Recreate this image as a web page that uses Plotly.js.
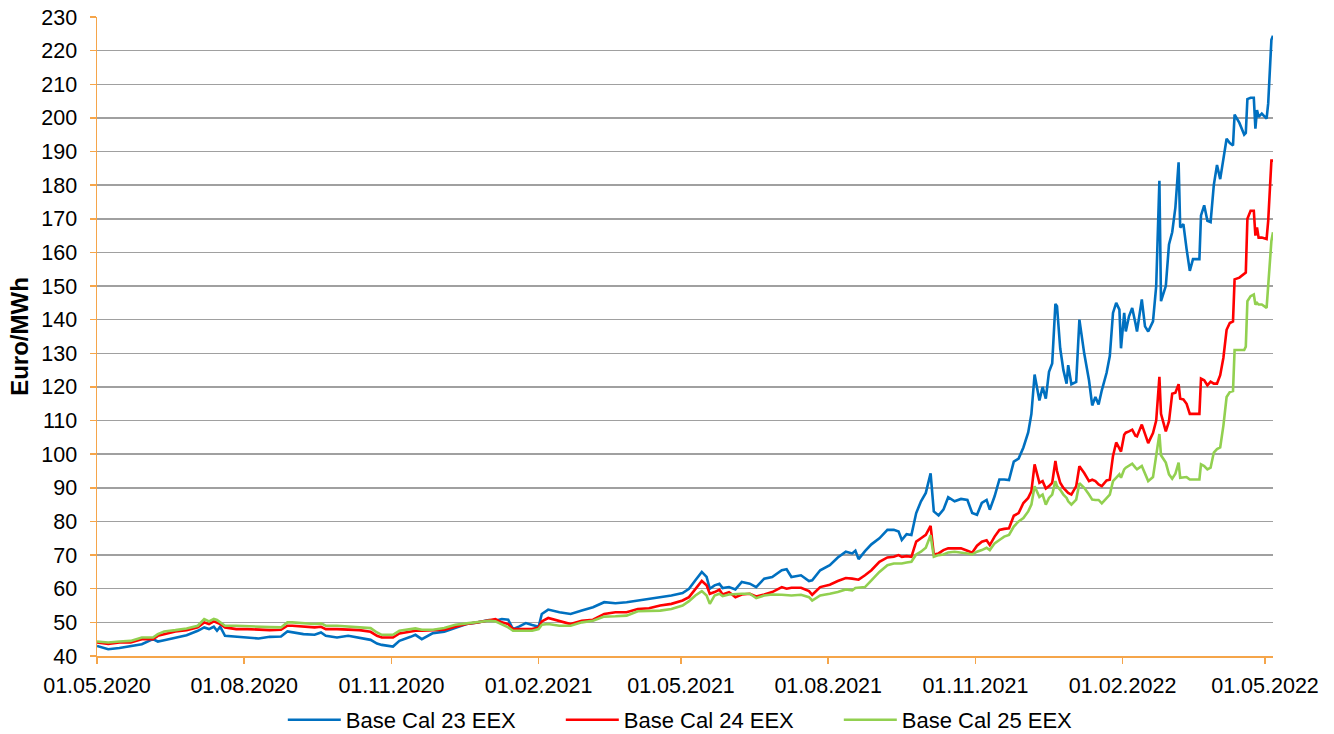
<!DOCTYPE html>
<html>
<head>
<meta charset="utf-8">
<script src="https://cdn.plot.ly/plotly-3.0.1.min.js"></script>
<style>html,body{margin:0;padding:0;background:#fff;}#chart{width:1334px;height:734px;}</style>
</head>
<body>
<div id="chart"></div>
<script>
const dates = [
'2020-05-01','2020-05-08','2020-05-15','2020-05-22','2020-05-29','2020-06-05','2020-06-08','2020-06-12','2020-06-19','2020-06-26',
'2020-07-03','2020-07-07','2020-07-10','2020-07-13','2020-07-15','2020-07-17','2020-07-20','2020-07-27','2020-08-03','2020-08-10',
'2020-08-17','2020-08-24','2020-08-28','2020-08-31','2020-09-07','2020-09-14','2020-09-18','2020-09-21','2020-09-28','2020-10-05',
'2020-10-12','2020-10-19','2020-10-23','2020-10-26','2020-11-02','2020-11-06','2020-11-13','2020-11-16','2020-11-20','2020-11-27',
'2020-12-04','2020-12-11','2020-12-18','2020-12-25','2021-01-01','2021-01-05','2021-01-09','2021-01-13','2021-01-16','2021-01-20',
'2021-01-24','2021-01-28','2021-02-01','2021-02-03','2021-02-07','2021-02-14','2021-02-21','2021-02-28','2021-03-07','2021-03-14',
'2021-03-21','2021-03-28','2021-04-04','2021-04-11','2021-04-18','2021-04-25','2021-05-02','2021-05-06','2021-05-10','2021-05-14',
'2021-05-17','2021-05-19','2021-05-22','2021-05-25','2021-05-27','2021-05-31','2021-06-04','2021-06-08','2021-06-13','2021-06-17',
'2021-06-22','2021-06-27','2021-07-03','2021-07-06','2021-07-09','2021-07-15','2021-07-20','2021-07-22','2021-07-27','2021-08-02',
'2021-08-07','2021-08-12','2021-08-16','2021-08-18','2021-08-20','2021-08-24','2021-08-28','2021-09-02','2021-09-07','2021-09-11',
'2021-09-14','2021-09-16','2021-09-19','2021-09-22','2021-09-25','2021-09-28','2021-10-01','2021-10-04','2021-10-06','2021-10-09',
'2021-10-12','2021-10-15','2021-10-19','2021-10-23','2021-10-27','2021-10-30','2021-11-02','2021-11-05','2021-11-08','2021-11-10',
'2021-11-13','2021-11-16','2021-11-19','2021-11-22','2021-11-25','2021-11-28','2021-12-01','2021-12-04','2021-12-06','2021-12-08',
'2021-12-11','2021-12-13','2021-12-15','2021-12-17','2021-12-19','2021-12-21','2021-12-22','2021-12-24','2021-12-26','2021-12-28',
'2021-12-29','2021-12-31','2022-01-03','2022-01-05','2022-01-08','2022-01-11','2022-01-13','2022-01-15','2022-01-17','2022-01-19',
'2022-01-22','2022-01-24','2022-01-26','2022-01-28','2022-01-30','2022-01-31','2022-02-02','2022-02-03','2022-02-05','2022-02-07',
'2022-02-09','2022-02-10','2022-02-13','2022-02-15','2022-02-17','2022-02-20','2022-02-22','2022-02-24','2022-02-25','2022-02-28',
'2022-03-02','2022-03-04','2022-03-06','2022-03-08','2022-03-09','2022-03-11','2022-03-13','2022-03-15','2022-03-17','2022-03-21',
'2022-03-22','2022-03-24','2022-03-26','2022-03-28','2022-03-30','2022-04-01','2022-04-03','2022-04-05','2022-04-07','2022-04-09',
'2022-04-11','2022-04-12','2022-04-15','2022-04-18','2022-04-19','2022-04-20','2022-04-22','2022-04-24','2022-04-25','2022-04-26',
'2022-04-27','2022-04-29','2022-05-02','2022-05-03','2022-05-05','2022-05-06'
];

const cal23 = [
43.0,42.0,42.4,42.9,43.5,45.0,44.3,44.7,45.5,46.2,
47.5,48.5,48.0,48.7,47.5,48.7,46.0,45.7,45.5,45.2,
45.7,45.8,47.3,47.0,46.5,46.3,47.0,46.0,45.5,46.0,
45.3,44.8,43.7,43.3,42.8,44.5,45.7,46.3,45.0,46.8,
47.2,48.3,49.5,50.0,50.7,50.5,51.0,50.8,48.0,48.8,
49.8,49.2,48.7,52.5,53.8,53.0,52.5,53.5,54.5,56.0,
55.7,56.0,56.5,56.8,57.5,58.0,58.7,60.0,62.5,65.0,
63.5,60.0,61.0,61.5,60.2,60.5,59.8,62.0,61.5,60.5,
63.0,63.5,65.5,65.8,63.5,64.0,62.3,62.5,65.5,67.0,
69.3,71.0,70.5,71.3,68.8,71.2,73.2,75.0,77.5,77.5,
77.0,74.5,76.2,76.0,82.5,86.0,88.5,94.3,83.0,81.8,
83.5,87.2,86.0,86.7,86.4,82.5,82.0,85.5,86.4,83.5,
87.5,92.5,92.5,92.3,97.8,98.7,102.0,106.5,112.0,123.7,
116.0,120.0,116.5,124.5,127.0,144.7,144.0,131.5,125.0,121.0,
126.5,120.8,121.5,140.0,130.0,122.0,114.5,117.0,114.8,119.0,
124.2,129.2,142.0,145.0,143.0,131.5,142.0,136.5,141.0,143.5,
139.0,136.5,146.0,138.0,136.5,139.5,150.0,181.3,145.5,150.0,
162.4,166.0,173.4,186.8,167.4,168.4,161.0,154.5,158.0,158.0,
171.0,174.0,169.4,169.0,180.0,186.0,181.8,188.0,193.8,192.5,
191.8,201.0,198.5,195.0,195.5,205.6,206.0,206.0,196.8,202.3,
200.3,201.3,199.8,204.3,223.2,224.4
];

const cal24 = [
44.0,43.6,44.0,44.0,45.0,45.0,46.0,46.5,47.3,47.7,
48.5,50.0,49.5,50.3,50.0,49.5,48.5,48.0,48.0,47.8,
47.7,47.8,49.0,49.0,48.8,48.5,48.7,48.0,48.0,47.8,
47.7,47.2,46.0,45.5,45.5,46.7,47.3,47.5,47.5,47.6,
47.8,48.7,49.5,50.0,50.6,51.0,50.0,49.5,48.0,48.0,
48.0,48.0,48.5,50.3,51.3,50.5,49.5,50.5,50.8,52.5,
53.0,53.0,54.0,54.2,55.0,55.5,56.5,57.5,60.0,62.3,
61.0,58.5,59.0,59.7,58.3,59.0,57.5,58.3,58.5,57.7,
58.3,59.0,60.5,60.0,60.3,60.3,59.3,58.2,60.5,61.2,
62.3,63.2,63.0,62.8,62.7,64.0,65.5,68.0,69.3,69.5,
70.0,69.5,69.7,69.5,74.0,75.0,76.0,78.7,70.2,70.5,
71.5,72.0,72.0,72.0,71.3,70.7,72.8,74.0,74.4,73.0,
75.5,77.5,77.8,78.0,81.7,82.5,85.5,87.0,89.0,97.0,
91.5,92.0,89.8,90.5,91.5,98.0,95.0,91.5,90.0,89.0,
88.5,88.0,90.5,96.4,94.4,92.0,92.4,92.0,91.0,90.5,
92.2,92.4,99.5,103.5,101.5,100.8,105.8,106.4,106.8,107.3,
105.5,105.3,108.8,106.0,103.3,106.3,110.0,123.0,112.0,106.8,
109.8,118.0,118.3,120.8,116.5,116.3,115.0,112.0,112.0,112.0,
122.5,122.0,120.5,121.6,121.0,121.0,123.5,128.7,137.0,139.0,
139.5,152.0,152.5,153.5,154.0,170.0,172.4,172.4,165.0,167.4,
164.4,164.4,164.0,169.4,187.3,187.3
];

const cal25 = [
44.3,44.0,44.3,44.5,45.5,45.5,46.5,47.3,47.7,48.2,
49.0,51.0,50.3,51.0,50.7,50.0,49.0,49.0,48.8,48.8,
48.6,48.5,50.0,50.0,49.8,49.5,49.7,49.0,49.0,48.8,
48.7,48.3,47.0,46.3,46.3,47.5,48.0,48.2,47.8,47.8,
48.3,49.3,49.7,50.0,50.5,50.3,49.5,48.5,47.5,47.5,
47.5,47.5,48.0,49.3,49.5,49.0,49.0,50.0,50.5,51.7,
51.8,52.0,53.3,53.5,53.5,54.0,55.0,56.3,58.0,59.3,
58.0,55.5,58.0,58.5,57.8,58.3,58.5,58.5,58.5,57.2,
58.0,58.3,58.2,58.0,58.0,58.2,57.5,56.5,58.0,58.5,
59.0,59.8,59.5,60.2,60.3,60.5,62.5,65.0,67.0,67.5,
67.5,67.5,67.8,68.0,70.2,71.0,72.2,75.9,69.5,70.0,
70.2,70.8,71.0,70.8,70.5,70.2,71.0,71.5,72.2,71.5,
73.5,74.5,75.5,76.0,78.5,80.0,81.0,83.0,85.0,90.5,
87.3,88.0,85.0,87.0,88.0,92.0,90.5,89.4,88.0,87.0,
86.0,85.0,86.5,91.4,90.0,88.0,86.5,86.4,86.4,85.4,
87.0,88.0,92.0,93.0,94.0,93.0,95.5,96.0,96.7,97.2,
96.0,95.5,96.5,94.5,92.0,93.2,99.0,106.0,99.7,97.5,
94.0,92.7,94.2,97.5,93.0,93.0,93.2,92.5,92.5,92.5,
97.0,96.5,95.5,96.0,100.5,101.5,102.0,108.5,117.0,118.5,
118.8,131.0,131.0,131.0,132.0,145.5,147.0,147.5,144.5,145.0,
144.5,144.5,143.5,149.5,163.4,166.0
];

const seriesNames = ['Base Cal 23 EEX','Base Cal 24 EEX','Base Cal 25 EEX'];
const seriesValues = [cal23, cal24, cal25];
const seriesColors = ['#0070C0','#FF0000','#92D050'];

const traces = seriesNames.map((name, i) => ({
  type: 'scatter',
  mode: 'lines',
  name: name,
  x: dates,
  y: seriesValues[i],
  line: {color: seriesColors[i], width: 2.6}
}));

const axisOrange = '#F5A54A';
const fam = '"Liberation Sans", Arial, sans-serif';

const layout = {
  width: 1334, height: 734,
  margin: {l: 97, r: 61, t: 17, b: 78, pad: 0, autoexpand: false},
  paper_bgcolor: '#fff', plot_bgcolor: '#fff',
  font: {family: fam, size: 21, color: '#000'},
  showlegend: true,
  legend: {
    orientation: 'h', x: 0.158, xanchor: 'left', y: -0.1, yanchor: 'middle',
    font: {family: fam, size: 22, color: '#000'},
    itemwidth: 53, entrywidth: 210, entrywidthmode: 'pixels', traceorder: 'normal',
    bgcolor: 'rgba(0,0,0,0)'
  },
  xaxis: {
    type: 'date',
    range: ['2020-05-01', '2022-05-06'],
    tick0: '2020-05-01', dtick: 'M3',
    tickformat: '%d.%m.%Y',
    showgrid: false, zeroline: false,
    showline: true, linecolor: axisOrange, linewidth: 1.5,
    ticks: 'outside', ticklen: 6, tickcolor: axisOrange, tickwidth: 1.5,
    tickfont: {family: fam, size: 21.5, color: '#000'},
    ticklabelstandoff: 4
  },
  yaxis: {
    range: [40, 230], dtick: 10, tick0: 40,
    showgrid: true, gridcolor: '#A0A0A0', gridwidth: 1.5,
    zeroline: false,
    showline: true, linecolor: axisOrange, linewidth: 1.5,
    ticks: 'outside', ticklen: 6, tickcolor: axisOrange, tickwidth: 1.5,
    tickfont: {family: fam, size: 21.5, color: '#000'},
    ticklabelstandoff: 8,
    title: {text: '<b>Euro/MWh</b>', font: {family: fam, size: 24, color: '#000'}, standoff: 6}
  }
};

Plotly.newPlot('chart', traces, layout, {displayModeBar: false, staticPlot: true});
</script>
</body>
</html>
